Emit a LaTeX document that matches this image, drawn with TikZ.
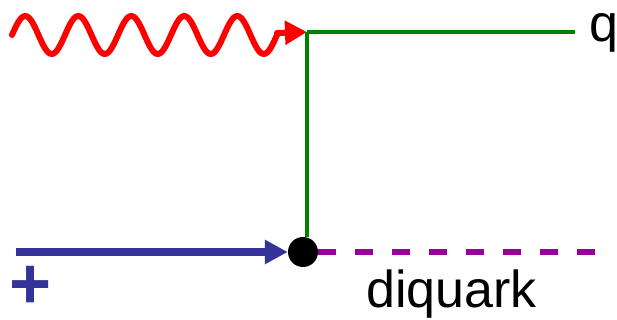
\documentclass[tikz,border=0pt]{standalone}
\usepackage{fontspec}
\setmainfont{Liberation Sans}
\usetikzlibrary{arrows.meta}
\definecolor{Photon}{HTML}{FF0000}
\definecolor{Quark}{HTML}{008000}
\definecolor{Beam}{HTML}{333399}
\definecolor{Diq}{HTML}{990099}
\tikzset{
  photon/.style={draw=Photon, line width=6pt, line cap=round, line join=round},
  photonhead/.style={-{Triangle[length=22pt,width=23pt]}, draw=Photon,
    fill=Photon, line width=6pt},
  quark/.style={draw=Quark, line width=4pt},
  beam/.style={-{Triangle[length=23pt,width=23pt]}, draw=Beam,
    fill=Beam, line width=8pt},
  diquark/.style={draw=Diq, line width=6.5pt, dash pattern=on 18pt off 19pt},
  vertex/.style={circle, fill=black, minimum size=30pt, inner sep=0pt},
  label/.style={inner sep=0pt, font=\fontsize{52}{60}\selectfont}
}
\begin{document}
\begin{tikzpicture}[x=1pt,y=1pt]
  \useasboundingbox (0,0) rectangle (617,320);
  % vertex and end points
  \node[vertex] (v) at (303,68) {};
  \coordinate (c) at (307,288);
  \coordinate (qe) at (575,288);
  \coordinate (w0) at (12,285);
  \coordinate (w1) at (277,287);
  \coordinate (b0) at (16,68);
  \coordinate (d1) at (600,68);
  % lines
  \draw[photon,shift={(w0)}] plot[domain=0:265,samples=160]
    (\x,{19*sin(\x*6.7925)}) -- (w1);
  \draw[photonhead] (w1) -- (c);
  \draw[quark] (c) -- (qe);
  \draw[quark] (c) -- (v.north -| c);
  \draw[beam] (b0) -- (v);
  \draw[diquark] (v) -- (d1);
  % labels
  \node[label,anchor=base west] (q) at (589,278) {q};
  \node[label,anchor=base west] (dq) at (366,12) {diquark};
  \node[label,text=Beam,font=\fontsize{72}{72}\selectfont\bfseries] (plus) at (31,33) {+};
\end{tikzpicture}
\end{document}
